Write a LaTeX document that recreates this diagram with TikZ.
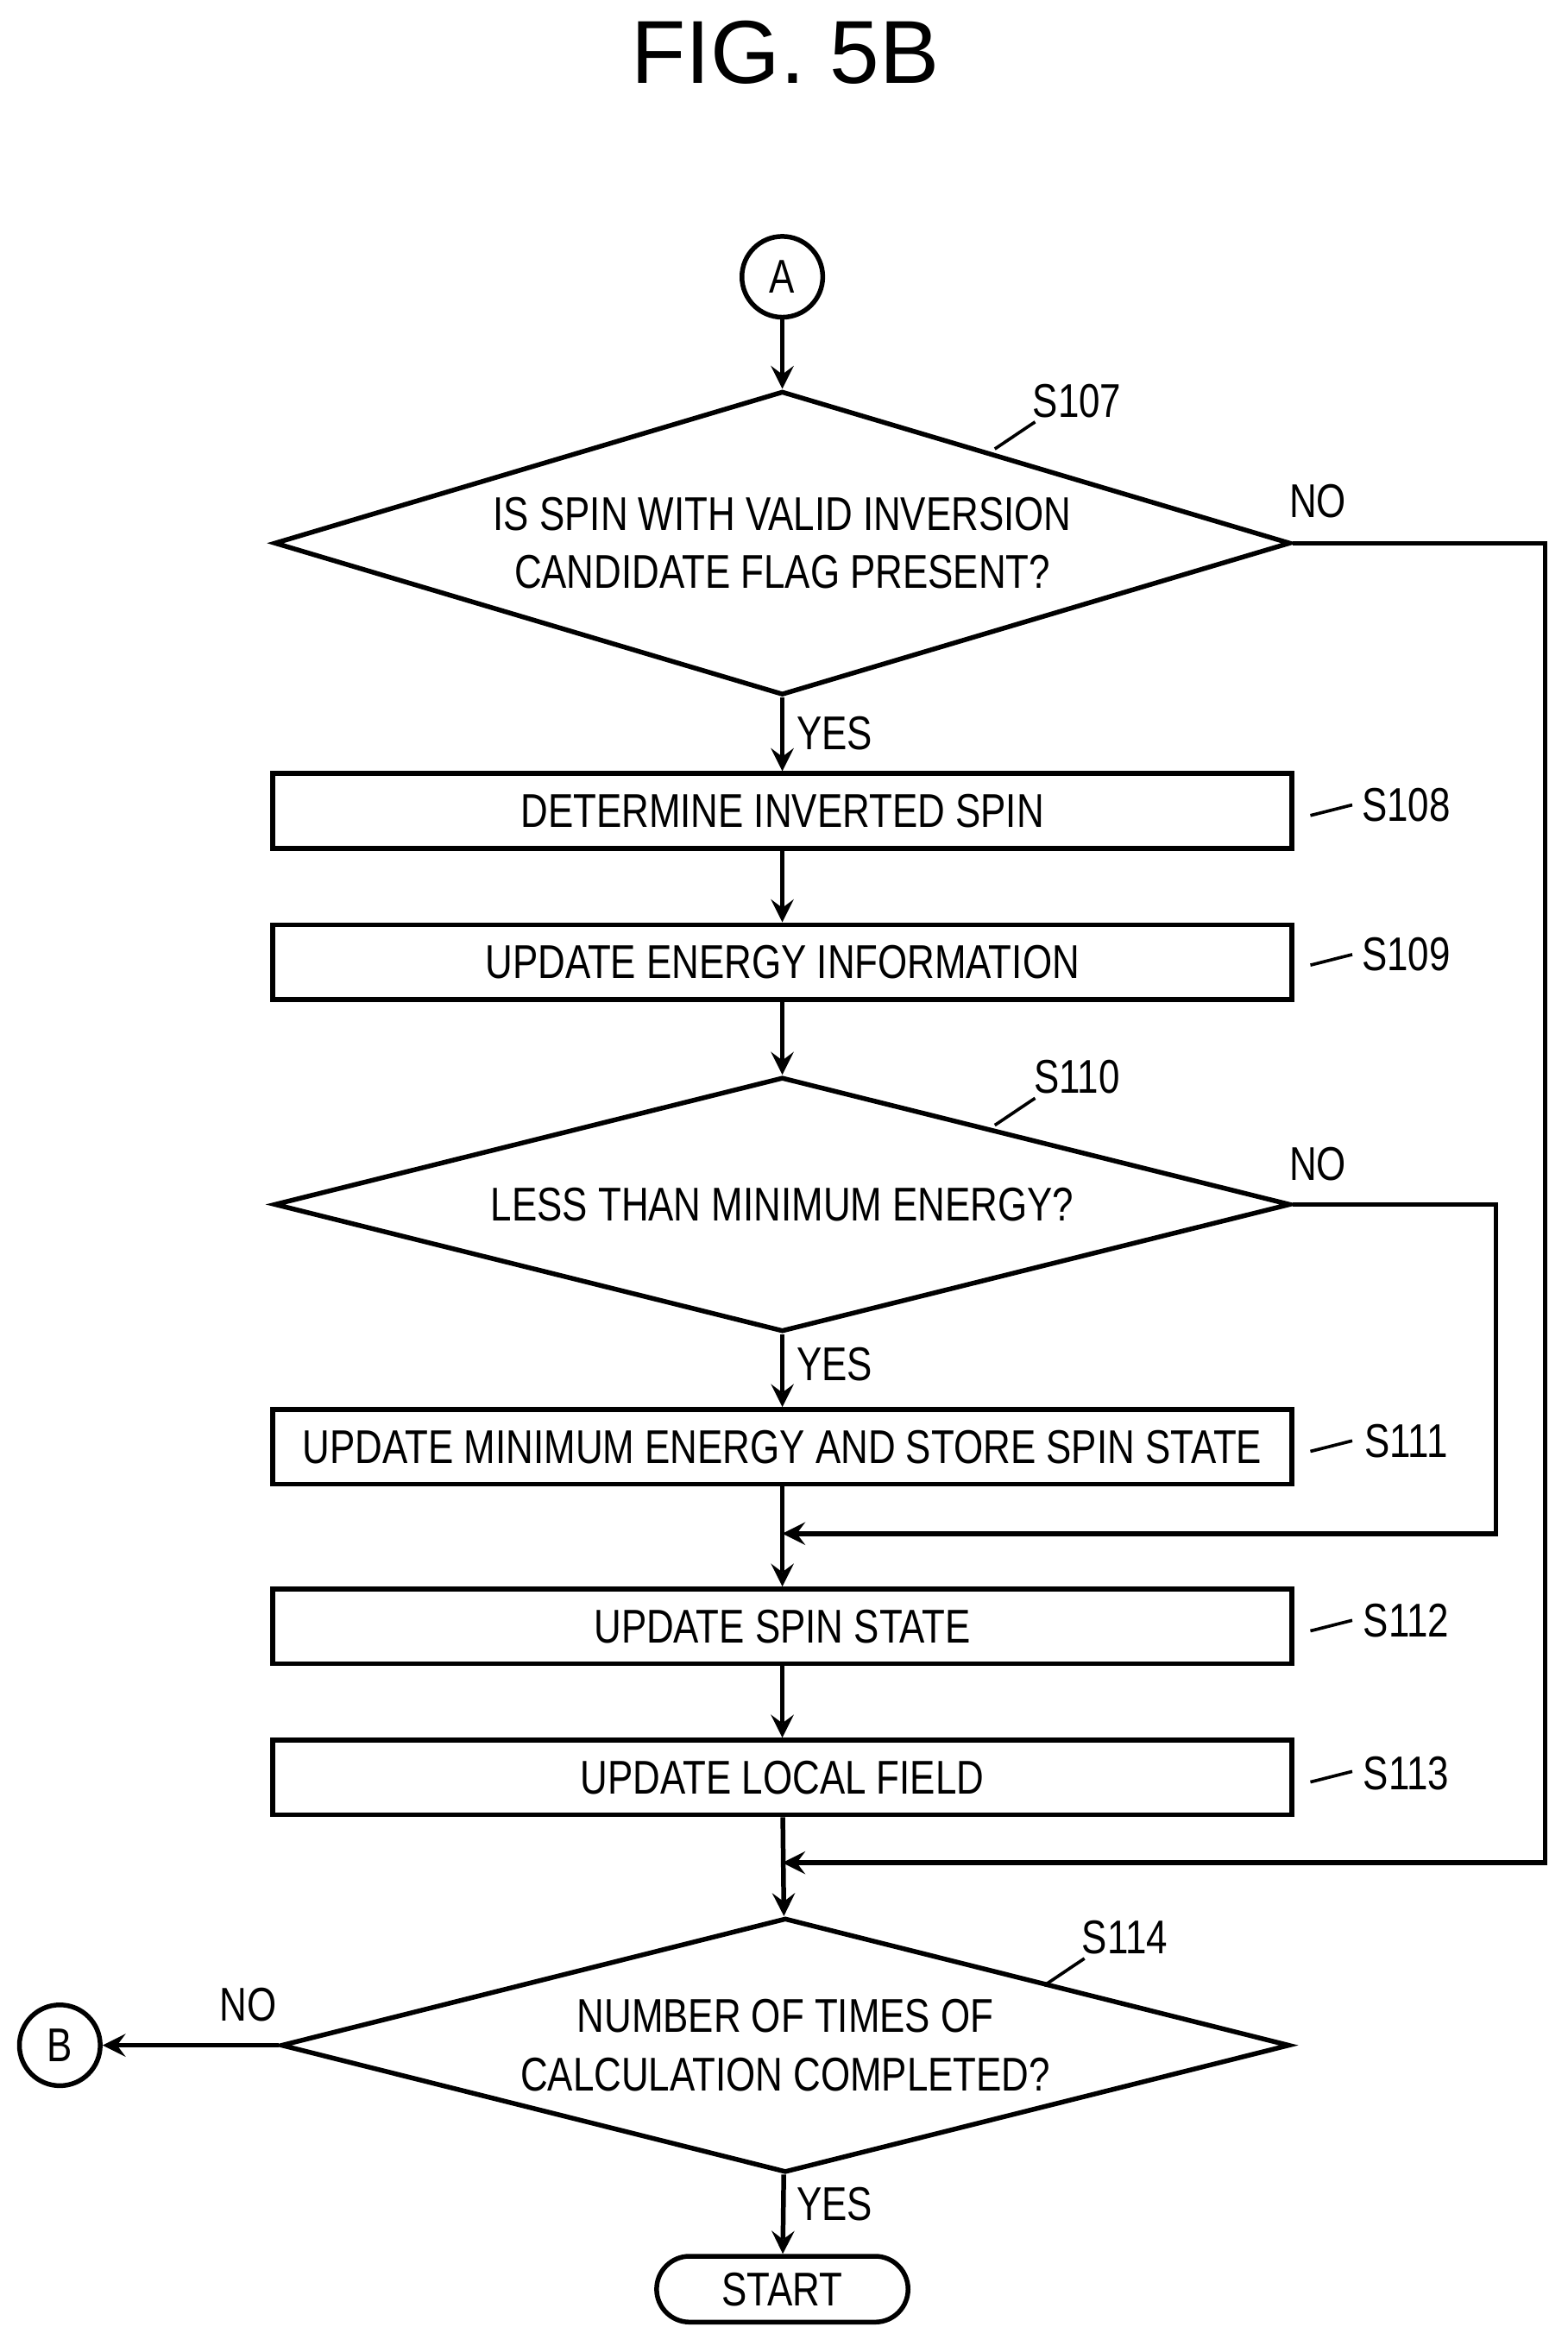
\documentclass[tikz,border=0pt]{standalone}
\usepackage{fontspec}
\setmainfont[FakeStretch=0.8]{Liberation Sans}
\newfontfamily\titlefont{Liberation Sans}
\usetikzlibrary{shapes.geometric,shapes.misc,positioning}
\tikzset{
  proc/.style={draw, line width=0.9pt, minimum width=6.81cm, minimum height=0.5cm, inner sep=0pt, font=\fontsize{9}{11}\selectfont},
  test/.style={draw, diamond, line width=0.9pt, aspect=3.4, inner sep=0pt, font=\fontsize{9}{11}\selectfont, align=center},
  conn/.style={draw, circle, line width=0.9pt, minimum size=0.54cm, inner sep=0pt, font=\fontsize{9}{11}\selectfont},
  flow/.style={line width=0.9pt, ->, >=stealth},
  tag/.style={font=\fontsize{9}{11}\selectfont},
}
\newcommand{\wig}[2]{\draw[line width=0.6pt] (#1) .. controls +(0.12,0.1) and +(-0.12,-0.1) .. (#2);}
\begin{document}
\begin{tikzpicture}[x=0.01cm,y=-0.01cm]
    \useasboundingbox (0,0) rectangle (1048,1568);
    \node[font=\titlefont\fontsize{17}{20}\selectfont] (title) at (525,35) {FIG. 5B};

    \node[conn] (a) at (523,185) {A};

    \node[test, minimum width=6.79cm, minimum height=2.03cm] (s107) at (523,363) {IS SPIN WITH VALID INVERSION\\CANDIDATE FLAG PRESENT?};
    \node[proc] (s108) at (523,542) {DETERMINE INVERTED SPIN};
    \node[proc] (s109) at (523,643) {UPDATE ENERGY INFORMATION};
    \node[test, minimum width=6.79cm, minimum height=1.7cm] (s110) at (523,805) {LESS THAN MINIMUM ENERGY?};
    \node[proc] (s111) at (523,967) {UPDATE MINIMUM ENERGY AND STORE SPIN STATE};
    \node[proc] (s112) at (523,1087) {UPDATE SPIN STATE};
    \node[proc] (s113) at (523,1188) {UPDATE LOCAL FIELD};
    \node[test, minimum width=6.74cm, minimum height=1.7cm] (s114) at (525,1367) {NUMBER OF TIMES OF\\CALCULATION COMPLETED?};
    \node[draw, rounded rectangle, line width=0.9pt, minimum width=1.68cm, minimum height=0.44cm, inner sep=0pt, tag] (start) at (523,1530) {START};
    \node[conn] (b) at (40,1367) {B};

    % step labels
    \node[tag] (l107) at (720,268) {S107};
    \node[tag] (l108) at (940,538) {S108};
    \node[tag] (l109) at (940,638) {S109};
    \node[tag] (l110) at (720,720) {S110};
    \node[tag] (l111) at (940,963) {S111};
    \node[tag] (l112) at (940,1083) {S112};
    \node[tag] (l113) at (940,1185) {S113};
    \node[tag] (l114) at (752,1295) {S114};
    \wig{665,300}{692,282}
    \wig{665,752}{692,734}
    \wig{698,1327}{725,1309}
    \wig{876,545}{904,538}
    \wig{876,645}{904,638}
    \wig{876,970}{904,963}
    \wig{876,1090}{904,1083}
    \wig{876,1191}{904,1184}

    % yes / no
    \node[tag] (y107) at (558,490) {YES};
    \node[tag] (n107) at (881,335) {NO};
    \node[tag] (y110) at (558,912) {YES};
    \node[tag] (n110) at (881,778) {NO};
    \node[tag] (y114) at (558,1473) {YES};
    \node[tag] (n114) at (166,1340) {NO};

    \coordinate (j111) at (523,1025);
    \coordinate (j113) at (523,1245);

    \draw[flow] (a) -- (s107);
    \draw[flow] (s107) -- (s108);
    \draw[flow] (s108) -- (s109);
    \draw[flow] (s109) -- (s110);
    \draw[flow] (s110) -- (s111);
    \draw[flow] (s111) -- (s112);
    \draw[flow] (s112) -- (s113);
    \draw[flow] (s113) -- (s114);
    \draw[flow] (s114) -- (start);
    \draw[flow] (s114) -- (b);
    \draw[flow] (s107.east) -- (1033,363) -- (1033,1245) -- (j113);
    \draw[flow] (s110.east) -- (1000,805) -- (1000,1025) -- (j111);
\end{tikzpicture}
\end{document}
